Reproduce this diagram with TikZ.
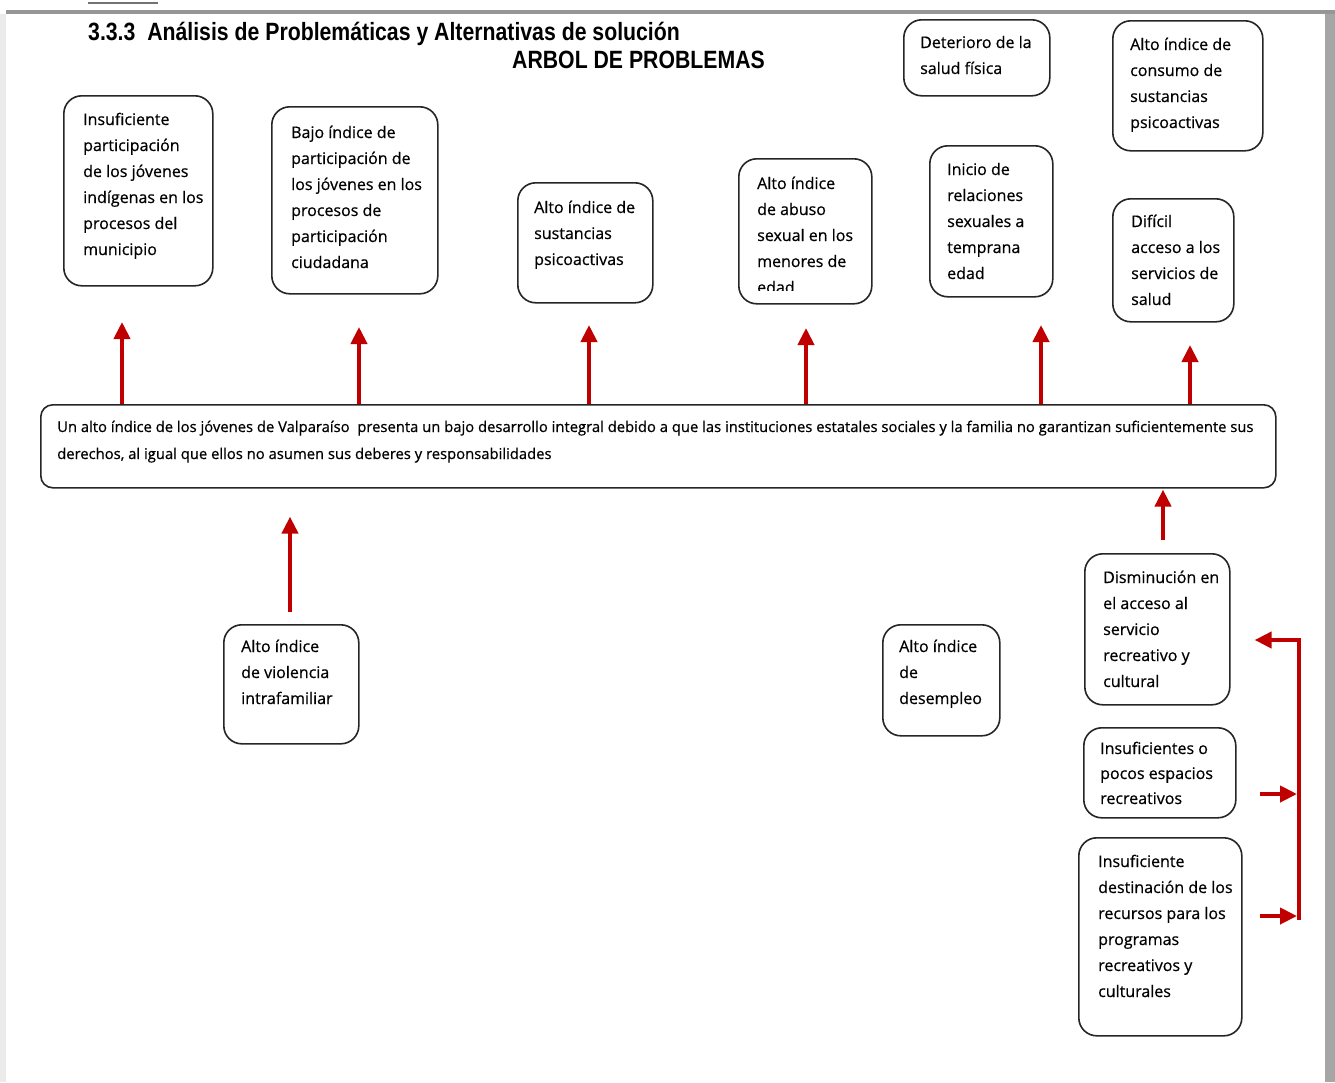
\documentclass[tikz,border=0pt]{standalone}
\usepackage{fontspec}
\setmainfont{Open Sans}[FakeBold=0.6]
\newfontfamily\hdrfont{Liberation Sans}
\usetikzlibrary{arrows.meta}
\definecolor{arrred}{RGB}{192,0,0}
\definecolor{frame}{RGB}{150,150,150}
\tikzset{
  box/.style={draw=black!85, line width=1.6pt, rounded corners=18pt, fill=white, anchor=north west, inner sep=0pt},
  txt/.style={align=left, inner sep=0pt, anchor=base west, font=\fontsize{16}{26}\selectfont, text=black},
  maintxt/.style={align=left, inner sep=0pt, anchor=base west, font=\fontsize{14.8}{27}\selectfont, text=black},
  arr/.style={draw=arrred, line width=4pt, -{Triangle[width=16pt,length=17pt]}},
  redline/.style={draw=arrred, line width=4pt},
  hdr/.style={inner sep=0pt, anchor=base west, font=\hdrfont\bfseries\fontsize{25}{30}\selectfont}
}
\begin{document}
\begin{tikzpicture}[x=1pt,y=-1pt]
\useasboundingbox (0,0) rectangle (1335,1082);
\fill[white] (0,0) rectangle (1335,1082);
% screenshot frame
\fill[frame] (6,10) rectangle (1335,14);
\fill[black!35] (1325,14) rectangle (1335,1082);
\fill[black!8] (0,14) rectangle (6,1082);
\draw[black!55, line width=2pt] (88,3) -- (158,3);
% headers
\node[hdr] (h1) at (88,40) {\scalebox{0.85}[1]{3.3.3\ \ Análisis de Problemáticas y Alternativas de solución}};
\node[hdr] (h2) at (512,68) {\scalebox{0.85}[1]{ARBOL DE PROBLEMAS}};
% top boxes (text anchored at baseline of last line)
\node[box, minimum width=149pt, minimum height=190pt] (b1) at (63,95) {};
\node[txt] (b1t) at (83,255) {Insuficiente\\participación\\de los jóvenes\\indígenas en los\\procesos del\\municipio};
\node[box, minimum width=166pt, minimum height=187pt] (b2) at (271,106) {};
\node[txt] (b2t) at (291,268) {Bajo índice de\\participación de\\los jóvenes en los\\procesos de\\participación\\ciudadana};
\node[box, minimum width=135pt, minimum height=120pt] (b3) at (517,182) {};
\node[txt] (b3t) at (534,265) {Alto índice de\\sustancias\\psicoactivas};
\node[box, minimum width=133pt, minimum height=145pt] (b4) at (738,158) {};
\begin{scope}
\clip (739,159) rectangle (870,290);
\node[txt] (b4t) at (757,293) {Alto índice\\de abuso\\sexual en los\\menores de\\edad};
\end{scope}
\node[box, minimum width=146pt, minimum height=76pt] (b5) at (903,19) {};
\node[txt] (b5t) at (920,74) {Deterioro de la\\salud física};
\node[box, minimum width=150pt, minimum height=130pt] (b6) at (1112,20) {};
\node[txt] (b6t) at (1130,128) {Alto índice de\\consumo de\\sustancias\\psicoactivas};
\node[box, minimum width=123pt, minimum height=151pt] (b7) at (929,145) {};
\node[txt] (b7t) at (947,279) {Inicio de\\relaciones\\sexuales a\\temprana\\edad};
\node[box, minimum width=121pt, minimum height=123pt] (b8) at (1112,198) {};
\node[txt] (b8t) at (1131,305) {Difícil\\acceso a los\\servicios de\\salud};
% main box
\node[box, rounded corners=12pt, minimum width=1235pt, minimum height=83pt] (m) at (40,404) {};
\node[maintxt] (mt) at (57,459) {Un alto índice de los jóvenes de Valparaíso\ \ presenta un bajo desarrollo integral debido a que las instituciones estatales sociales y la familia no garantizan suficientemente sus\\derechos, al igual que ellos no asumen sus deberes y responsabilidades};
% bottom boxes
\node[box, minimum width=135pt, minimum height=119pt] (v) at (223,624) {};
\node[txt] (vt) at (241,704) {Alto índice\\de violencia\\intrafamiliar};
\node[box, minimum width=117pt, minimum height=111pt] (d) at (882,624) {};
\node[txt] (dt) at (899,704) {Alto índice\\de\\desempleo};
\node[box, minimum width=145pt, minimum height=151pt] (r1) at (1084,553) {};
\node[txt] (r1t) at (1103,687) {Disminución en\\el acceso al\\servicio\\recreativo y\\cultural};
\node[box, minimum width=152pt, minimum height=90pt] (r2) at (1083,727) {};
\node[txt, font=\fontsize{16}{25}\selectfont] (r2t) at (1100,804) {Insuficientes o\\pocos espacios\\recreativos};
\node[box, minimum width=163pt, minimum height=198pt] (r3) at (1078,837) {};
\node[txt] (r3t) at (1098,997) {Insuficiente\\destinación de los\\recursos para los\\programas\\recreativos y\\culturales};
% upward arrows (effects)
\foreach \xx/\yy/\nm in {122/322/a1, 359/327/a2, 589/325/a3, 806/328/a4, 1041/325/a5, 1190/345/a6}{
  \coordinate (\nm) at (\xx,\yy);
  \draw[arr] (m.north -| \nm) -- (\nm);
}
% causes
\coordinate (c1) at (290,612);
\draw[arr, shorten >=28pt] (c1) -- (c1 |- m.south);
\coordinate (c2) at (1163,540);
\draw[arr] (c2) -- ([yshift=-1pt]c2 |- m.south);
% bracket
\coordinate (bt) at (1299,640);
\coordinate (bb) at (1299,918);
\draw[redline] ([yshift=2pt]bt) -- ([yshift=-2pt]bb);
\draw[arr] (bt) -- ([xshift=24pt]r1.east |- bt);
\coordinate (p2) at (1297,794);
\coordinate (p3) at (1297,916);
\draw[arr] ([xshift=23pt]r2.east |- p2) -- (p2);
\draw[arr] ([xshift=17pt]r3.east |- p3) -- (p3);
\end{tikzpicture}
\end{document}
